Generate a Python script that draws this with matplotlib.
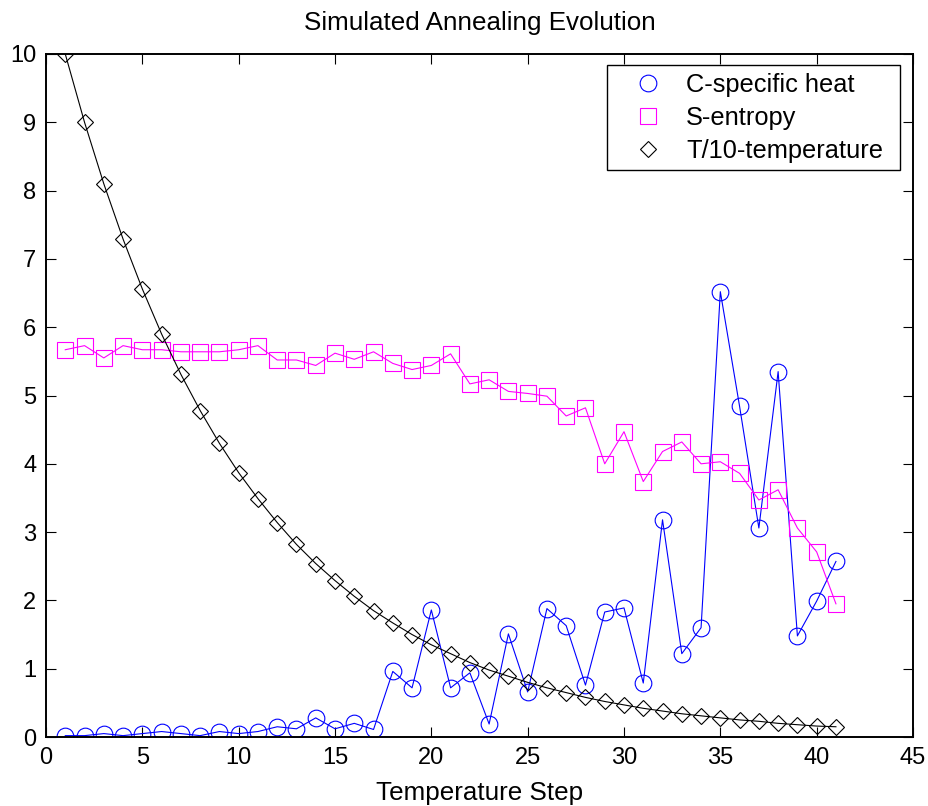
import matplotlib.pyplot as plt
from matplotlib.lines import Line2D
from matplotlib.patches import Rectangle

# ------------------ DATOS ------------------
pasos = list(range(1, 42))

calor_especifico = [0.02, 0.02, 0.05, 0.02, 0.05, 0.08, 0.05, 0.02, 0.08, 0.05,
                    0.08, 0.15, 0.12, 0.28, 0.12, 0.20, 0.11, 0.96, 0.72, 1.86,
                    0.72, 0.94, 0.19, 1.51, 0.66, 1.88, 1.63, 0.76, 1.83, 1.89,
                    0.79, 3.18, 1.22, 1.60, 6.52, 4.84, 3.06, 5.35, 1.48, 1.99,
                    2.57]

entropia = [5.67, 5.73, 5.55, 5.73, 5.67, 5.67, 5.64, 5.64, 5.64, 5.67,
            5.73, 5.52, 5.52, 5.44, 5.62, 5.53, 5.64, 5.47, 5.38, 5.44,
            5.61, 5.17, 5.23, 5.06, 5.03, 4.99, 4.70, 4.82, 4.00, 4.47,
            3.74, 4.18, 4.32, 4.00, 4.03, 3.86, 3.47, 3.62, 3.06, 2.71,
            1.95]

temperatura = [10.0, 9.0, 8.1, 7.29, 6.56, 5.90, 5.31, 4.78, 4.30, 3.87,
               3.49, 3.14, 2.82, 2.54, 2.29, 2.06, 1.85, 1.67, 1.50, 1.35,
               1.22, 1.09, 0.98, 0.89, 0.80, 0.72, 0.65, 0.58, 0.52, 0.47,
               0.42, 0.38, 0.34, 0.31, 0.28, 0.25, 0.23, 0.20, 0.18, 0.16,
               0.15]

etiquetas = ["C-specific heat", "S-entropy", "T/10-temperature"]

# ------------------ GRAFICO ------------------
plt.rcParams["font.family"] = ["Liberation Sans", "DejaVu Sans"]

W, H = 929, 806
fig = plt.figure(figsize=(W / 100, H / 100), dpi=100)
ax = fig.add_axes([46 / W, 1 - 737 / H, (913 - 46) / W, (737 - 54) / H])

azul = (0, 0, 1)
magenta = (1, 0, 1)

ax.plot(pasos, calor_especifico, color=azul, lw=0.8, marker="o", ms=12,
        mfc="none", mec=azul, mew=0.8)
ax.plot(pasos, entropia, color=magenta, lw=0.8, marker="s", ms=11.5,
        mfc="none", mec=magenta, mew=0.8)
ax.plot(pasos, temperatura, color="black", lw=0.8, marker="D", ms=8.5,
        mfc="none", mec="black", mew=0.8)

ax.set_xlim(0, 45)
ax.set_ylim(0, 10)
ax.set_xticks(range(0, 46, 5))
ax.set_yticks(range(0, 11))
ax.tick_params(direction="in", length=7, width=0.8, top=True, right=True,
               labelsize=17, pad=7)
for lado in ax.spines.values():
    lado.set_linewidth(1.4)

ax.set_title("Simulated Annealing Evolution", fontsize=18.7, pad=17)
ax.set_xlabel("Temperature Step", fontsize=18.7, labelpad=9)

# caja de la leyenda (fija, estilo MATLAB)
caja = Rectangle((607 / W, 1 - 170 / H), (900 - 607) / W, (170 - 65) / H,
                 transform=fig.transFigure, facecolor="white",
                 edgecolor="black", lw=1.0, zorder=4.9, clip_on=False)
ax.add_artist(caja)

manijas = [
    Line2D([], [], ls="none", marker="o", ms=12, mfc="none", mec=azul, mew=0.8),
    Line2D([], [], ls="none", marker="s", ms=11.5, mfc="none", mec=magenta, mew=0.8),
    Line2D([], [], ls="none", marker="D", ms=8.5, mfc="none", mec="black", mew=0.8),
]
leyenda = ax.legend(manijas, etiquetas, loc="upper left",
                    bbox_to_anchor=(623 / W, 1 - 73 / H),
                    bbox_transform=fig.transFigure, frameon=False,
                    fontsize=18.3, handletextpad=0.48, borderpad=0,
                    labelspacing=0.35, handlelength=2.0, borderaxespad=0)
leyenda.set_zorder(5)

fig.savefig("out.png", dpi=100)
